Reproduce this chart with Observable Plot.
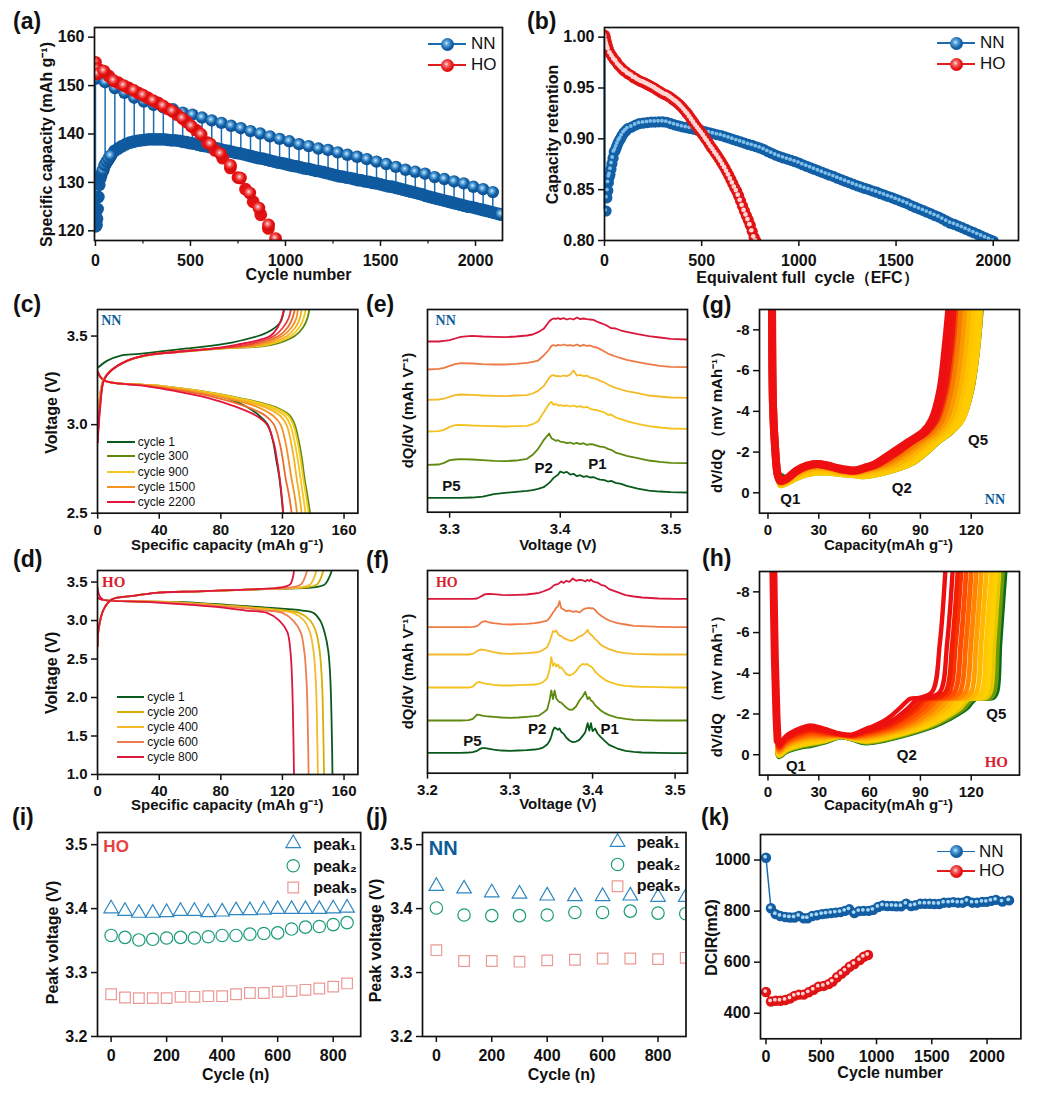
<!DOCTYPE html>
<html><head><meta charset="utf-8">
<style>
html,body{margin:0;background:#fff}
#page{position:relative;width:1040px;height:1099px;overflow:hidden;font-family:'Liberation Sans',Arial,sans-serif;color:#111}
.tag{position:absolute;font:bold 23px/1 'Liberation Sans',Arial,sans-serif}
.lg{position:absolute;font-size:12px;line-height:14px;white-space:nowrap}
.ln{position:absolute}
.sp{position:absolute;border-radius:50%}
</style>
<script src="https://cdn.jsdelivr.net/npm/d3@7"></script>
<script src="https://cdn.jsdelivr.net/npm/@observablehq/plot@0.6"></script>
</head><body>
<svg width="0" height="0" style="position:absolute"><defs>
<radialGradient id="sB" cx="0.42" cy="0.4" r="0.6"><stop offset="0" stop-color="#cfeafc"/><stop offset="0.28" stop-color="#5aa6dc"/><stop offset="0.62" stop-color="#135ea3"/><stop offset="1" stop-color="#0c4f92"/></radialGradient>
<radialGradient id="sR" cx="0.42" cy="0.4" r="0.6"><stop offset="0" stop-color="#ffe0e0"/><stop offset="0.28" stop-color="#f26a6a"/><stop offset="0.62" stop-color="#e41212"/><stop offset="1" stop-color="#d40b0b"/></radialGradient>
</defs></svg>
<div id="page"></div>
<script>
// (a) capacity vs cycle
const aUpperCycles=[0,51,102,153,204,255,306,357,408,459,510,561,612,663,714,765,816,867,918,969,1020,1071,1122,1173,1224,1275,1326,1377,1428,1479,1530,1581,1632,1683,1734,1785,1836,1887,1938,1989,2040,2091];
const aUpper=[151.4,150.7,149.5,148.5,147.5,146.7,146,145.5,145.1,144.4,144,143.4,142.8,142.3,141.7,141.2,140.6,140.1,139.5,139,138.5,137.9,137.5,137,136.7,136.2,135.7,135.3,134.8,134.3,133.8,133.2,132.6,132.2,131.8,131.1,130.7,130.2,129.8,129.1,128.6,128];
const aLowerCycles=[0,3,5,8,11,15,20,25,30,40,50,60,70,80,100,120,140,160,180,200,220,240,260,280,300,320,340,360,380,400,420,440,460,480,500,520,540,560,580,600,620,640,660,680,700,720,740,760,780,800,820,840,860,880,900,920,940,960,980,1000,1020,1040,1060,1080,1100,1120,1140,1160,1180,1200,1220,1240,1260,1280,1300,1320,1340,1360,1380,1400,1420,1440,1460,1480,1500,1520,1540,1560,1580,1600,1620,1640,1660,1680,1700,1720,1740,1760,1780,1800,1820,1840,1860,1880,1900,1920,1940,1960,1980,2000,2020,2040,2060,2080,2100,2120,2135];
const aLower=[121,121,121.3,122.5,124.5,127,129.5,130.8,131.5,132.5,133.6,134.3,134.9,135.5,136.5,137,137.5,137.9,138.2,138.4,138.6,138.7,138.8,138.9,138.9,138.9,138.9,138.9,138.8,138.7,138.7,138.6,138.4,138.3,138.1,138,137.8,137.6,137.5,137.3,137.2,137,136.8,136.6,136.5,136.3,136.1,136,135.8,135.6,135.4,135.2,135,134.9,134.7,134.5,134.3,134.1,134,133.8,133.6,133.4,133.3,133.1,132.9,132.8,132.6,132.4,132.3,132.1,131.9,131.7,131.5,131.3,131.2,131,130.9,130.7,130.5,130.4,130.2,130.1,129.9,129.8,129.6,129.4,129.2,129.1,128.9,128.7,128.5,128.3,128.1,127.9,127.7,127.5,127.2,127,126.8,126.6,126.4,126.2,126,125.8,125.6,125.4,125.2,125,124.9,124.7,124.5,124.3,124.1,123.9,123.7,123.5,123.4];
const aHoCycles=[0,3,9,44,96,149,202,251,303,356,405,458,505,556,605,658,711,763,812,860,911,948];
const aHo=[154.8,153.5,152.4,153,151,150,149,148,146.9,145.8,144.7,143.2,141.6,139.9,137.9,135.9,133.5,130.9,127.8,124.7,121.2,118.4];
const aHoDenseCycles=[0,25,70,120,175,225,275,330,380,430,480,530,590,630,670,710,750,790,830,870,910,950];
const aHoDense=[152.5,153.2,152,150.6,149.5,148.5,147.5,146.4,145.2,144,142.5,140.8,138.2,136.6,135,133,131,128.6,126,123.3,120.5,117.5];
// (b) retention vs EFC
const bNnEfc=[8,12,17,20,24,28,33,38,44,50,56,62,68,75,82,90,100,110,120,140,160,180,200,220,240,260,280,300,320,340,360,380,400,420,440,460,480,500,520,540,560,580,600,620,640,660,680,700,720,740,760,780,800,820,840,860,880,900,920,940,960,980,1000,1020,1040,1060,1080,1100,1120,1140,1160,1180,1200,1220,1240,1260,1280,1300,1320,1340,1360,1380,1400,1420,1440,1460,1480,1500,1520,1540,1560,1580,1600,1620,1640,1660,1680,1700,1720,1740,1760,1780,1800,1820,1840,1860,1880,1900,1920,1940,1960,1980,2000];
const bNn=[.829,.842,.849,.857,.8625,.865,.87,.8756,.881,.887,.889,.892,.895,.898,.9,.903,.906,.908,.91,.9115,.9135,.915,.9155,.916,.9165,.9165,.9167,.9167,.9163,.915,.9138,.9128,.9118,.911,.9102,.9095,.9085,.9078,.9068,.906,.905,.904,.9032,.902,.9008,.8995,.8982,.897,.8958,.8945,.8935,.8922,.891,.8895,.8875,.8858,.884,.8825,.8812,.88,.8788,.8775,.8762,.8745,.873,.8715,.87,.8685,.867,.8655,.8642,.8628,.8612,.8597,.8582,.8568,.8552,.8538,.8525,.8512,.85,.8487,.8475,.846,.8447,.8433,.842,.8405,.839,.8375,.836,.8342,.8325,.831,.8295,.8278,.8262,.8245,.823,.821,.819,.817,.8158,.8142,.8127,.811,.8093,.8077,.806,.8043,.8027,.801,.7993];
const bHoEfc=[0,4,8,12,16,20,30,40,50,60,70,80,90,100,110,120,130,140,150,160,170,180,190,200,210,220,230,240,250,260,270,280,290,300,310,320,330,340,350,360,370,380,390,400,410,420,430,440,450,460,470,480,490,500,510,520,530,540,550,560,570,580,590,600,610,620,630,640,650,660,670,680,690,700,710,720,730,740,750,760,770,780,790];
const bHo=[1.002,1,.996,.993,.99,.988,.984,.981,.978,.976,.973,.971,.969,.967,.966,.964,.963,.962,.96,.9595,.958,.957,.956,.9555,.9545,.9535,.9525,.9515,.9505,.9495,.948,.947,.9458,.9445,.9435,.943,.9417,.9405,.939,.9375,.9362,.9345,.9327,.9307,.9285,.9262,.924,.9212,.9185,.9158,.913,.9105,.908,.9055,.903,.9,.8975,.8945,.8915,.889,.886,.8835,.8805,.8775,.8742,.871,.8675,.864,.86,.856,.852,.8485,.844,.839,.834,.829,.8245,.82,.815,.809,.803,.799,.794];
// (c) NN voltage profiles
const cColors=["#0a5a1e","#5d8a0d","#f6c81e","#f7c51b","#f5b21f","#f39323","#ee6b2e","#e3143c"];
const cDisV=[3.3,3.25,3.22,3.19,3.15,3.1,3.05,3,2.9,2.8,2.7,2.6,2.5];
const cDisCap=[[0,4,35,60,84,97,105,110.5,114,116,118,119.3,120.4],[0,4,40,66.6,92,115,125,128,130.8,132.8,134.3,136.2,138],[0,4,39.4,65.8,91,113.7,123.9,127,129.9,131.9,133.5,135.3,137],[0,4,38,64,89,111,121.5,125,128,130,131.7,133.4,135],[0,4,37,62,86,108,118.5,122.6,125.6,127.6,129.2,131,132.5],[0,4,35,59,83,103.5,114,118.8,122,124,125.8,127.9,129.5],[0,4,32,55,78,97,109,114.5,118.1,120.3,122,124.3,126],[0,4,29,50,72,90,103,110,114.3,116.5,118.2,119.5,120.6]];
const cChgV=[2.9,3.1,3.25,3.3,3.36,3.39,3.41,3.43,3.45,3.5,3.55,3.6,3.65];
const cChgCap=[[0,.8,3.5,8,19,32,52,82,113,128,133.5,136.2,137.5],[0,.9,3.6,8,19,31.5,51,80,110,125.5,131,133.8,135],[0,1,3.7,8,19,31,50.5,79,107,123,128.5,131.3,132.5],[0,1.2,3.8,8,19,30.5,50,78,104,120,126,129,130],[0,1.3,3.9,8,19,30,49,77,100,117.5,123.5,126.5,128],[0,1.5,4,8,19,30,49,76,96,114.5,120.5,124,125.5],[0,1.7,4,8,19,30,52,76,90,112,117,119.5,121]];
const cChgColors=["#5d8a0d","#f6c81e","#f5b21f","#f39323","#ee6b2e","#e8403a","#e3143c"];
const cDarkCap=[0,6,15,27,58,88,110,118.5,121];
const cDarkV=[3.32,3.36,3.39,3.4,3.43,3.465,3.52,3.577,3.65];
const cLegend=["cycle 1","cycle 300","cycle 900","cycle 1500","cycle 2200"];
const cLegendColors=["#0a5a1e","#5d8a0d","#f6c81e","#f39323","#e3143c"];
// (d) HO voltage profiles
const dColors=["#0a5a1e","#d6b000","#f5b92a","#ee7e4e","#dc163c"];
const dDisV=[3.3,3.27,3.24,3.2,3.17,3.13,3.1,3,2.85,2.6,2.2,1.5,1];
const dDisCap=[[0,3,55,86,108,133,140,144.5,147.3,149.8,151.2,152.1,152.5],[0,3,50,80,100,122,131,138,141.8,144.2,145.7,146.6,147],[0,3,46,76,95,117,127,134,137.8,140.2,141.7,142.6,143],[0,3,41,71,89,109,120,127,131.8,134.2,135.7,136.6,137],[0,3,34,63,80,96,110,118,123.2,125.2,126.3,127.1,127.5]];
const dChgV=[2.67,2.89,3.145,3.275,3.32,3.36,3.38,3.41,3.43,3.47,3.58,3.65];
const dChgCap=[[0,.6,3.9,9.3,23,38,66,112,140,147.5,150.8,152],[0,.6,3.9,9.3,23,38,66,112,135,142.5,145.5,146.5],[0,.6,3.9,9.3,23,38,66,110,131,138,141,142],[0,.6,3.9,9.3,23,38,66,107,126,132,135,136],[0,.6,3.9,9.3,23,38,66,105,119,125,127,127.5]];
const dStartCap=[0,1,3];
const dStartV=[3.42,3.33,3.28];
const dLegend=["cycle 1","cycle 200","cycle 400","cycle 600","cycle 800"];
// (e) NN dQ/dV, arbitrary offset units
const eV=[3.28,3.29,3.295,3.3,3.305,3.31,3.32,3.33,3.34,3.35,3.36,3.37,3.375,3.38,3.385,3.39,3.392,3.394,3.396,3.398,3.4,3.403,3.406,3.409,3.412,3.415,3.418,3.421,3.424,3.427,3.43,3.433,3.436,3.44,3.443,3.446,3.45,3.455,3.46,3.47,3.48,3.49,3.5,3.515];
const eColors=["#0a5a1e","#5f8a0f","#f4c21f","#f4ba2a","#ee7a45","#d9183c"];
const eTraces=[
[43,43,43,43,43,43,44,47,54,58,61,64,66,70,75,88,95,103,108,112,122,118,121,113,115,108,111,106,108,104,105,101,98,96,92,94,88,85,79,71,65,62,60,59],
[142,143,148,156,158,159,158,156,154,153,155,160,172,190,216,236,222,218,214,216,212,210,207,209,205,208,204,207,202,204,203,200,197,195,190,187,179,174,169,162,155,151,148,147],
[242,243,247,256,261,262,260,259,258,257,258,259,264,273,300,325,331,322,325,320,321,319,320,317,320,316,318,314,316,310,308,306,303,299,292,293,284,279,273,265,258,254,251,250],
[337,338,341,346,351,353,352,350,349,348,350,351,356,364,378,403,410,411,408,409,407,410,408,413,425,410,412,408,410,404,402,399,394,389,383,378,373,368,363,357,350,347,344,343],
[428,430,433,439,444,447,446,444,443,443,445,448,451,455,470,488,499,501,499,502,500,503,500,501,499,503,498,502,499,500,496,494,489,482,476,472,467,462,457,450,444,439,436,435],
[512,512,514,516,521,526,529,527,526,525,527,530,533,540,550,572,578,581,580,582,579,582,578,581,578,584,579,581,579,578,577,572,568,563,558,552,551,545,541,534,528,524,520,518]];
// (f) HO dQ/dV
const fV=[3.2,3.22,3.24,3.25,3.255,3.26,3.263,3.266,3.27,3.275,3.28,3.29,3.3,3.31,3.32,3.33,3.335,3.34,3.345,3.348,3.35,3.352,3.354,3.356,3.358,3.36,3.362,3.365,3.368,3.372,3.376,3.38,3.384,3.388,3.391,3.394,3.396,3.398,3.4,3.403,3.406,3.41,3.415,3.42,3.43,3.44,3.45,3.46,3.48,3.5,3.515];
const fTraces=[
[61,61,61,62,63,67,72,75,75,73,71,68,67,68,69,71,73,77,86,97,110,128,137,134,130,134,124,118,107,98,93,95,100,112,122,150,128,150,126,134,119,108,96,85,74,67,64,62,61,60,60],
[158,158,158,159,163,176,175,173,171,170,169,167,166,167,169,171,173,181,191,220,248,222,248,224,218,213,212,204,197,190,191,200,218,230,244,222,228,218,215,204,197,188,180,174,167,163,160,159,158,158,158],
[257,257,257,257,260,272,274,271,269,267,265,263,263,264,265,266,268,273,285,312,348,322,330,320,326,316,318,308,298,293,297,306,320,328,326,327,322,320,316,305,298,289,280,274,266,262,260,259,258,257,257],
[356,356,356,356,358,366,370,371,369,366,363,359,358,359,360,362,364,370,378,395,410,426,424,428,418,413,412,405,402,398,397,403,410,414,420,430,420,416,411,402,396,385,378,372,364,360,358,357,356,356,356],
[438,438,438,438,439,441,447,454,456,452,450,447,446,447,448,450,452,455,458,466,474,482,488,497,500,516,495,491,486,488,484,486,482,490,494,495,496,494,495,490,481,473,465,458,450,446,442,441,439,438,438],
[523,523,523,523,523,524,528,532,537,538,537,535,534,535,536,539,541,545,550,553,556,561,565,566,567,571,575,571,577,574,584,577,580,579,575,580,576,581,576,573,572,565,562,552,543,534,530,527,524,523,523]];
// (g) NN dV/dQ band
const gColors=["#1f6d12","#9aa800","#ffcc00","#ffcc00","#ffc400","#fdb400","#fb9a00","#f77c00","#f24a00","#ee1510","#ee1010"];
const gLeftCap=[2.4,3,4.3,5.7];
const gLeftDv=[-9,-4.2,-2.1,-.9];
const gMidCap=[7.3,11,17,23,29,35,43,51,58];
const gRightDv=[-1.4,-2,-2.5,-3,-3.6,-5,-7,-9];
const gMidDv=[[-.9,-.75,-.8,-.93,-.97,-.97,-.92,-.85,-.8],[-.36,-.45,-.7,-.88,-.97,-.97,-.9,-.84,-.8],[-.36,-.45,-.7,-.88,-.97,-.97,-.9,-.84,-.8],[-.4,-.5,-.75,-.95,-1.05,-1.02,-.93,-.87,-.85],[-.42,-.52,-.8,-1,-1.1,-1.08,-.97,-.9,-.92],[-.45,-.55,-.85,-1.08,-1.18,-1.14,-1,-.94,-1],[-.48,-.58,-.92,-1.15,-1.25,-1.2,-1.05,-.98,-1.07],[-.5,-.62,-.98,-1.22,-1.32,-1.26,-1.1,-1.02,-1.15],[-.55,-.65,-1.04,-1.28,-1.38,-1.3,-1.13,-1.05,-1.2],[-.58,-.68,-1.08,-1.32,-1.42,-1.33,-1.16,-1.08,-1.24],[-.6,-.7,-1.1,-1.34,-1.42,-1.34,-1.18,-1.1,-1.26]];
const gRightCap=[[84.5,94.5,101,109,115,120.5,124,126.2],[84.3,94.2,100.8,108.8,115,120.2,123.8,125.8],[84,94,100.5,108.5,115,120,123.7,125.5],[82,92,99,107,113,118,121.5,123.5],[79,90,97,105,110.5,115.5,119,121],[76,87.5,95,102.5,108,113,116.5,118.5],[72,84,92,100,105.5,110.5,114,116],[69,81,89,97.5,103,108,111.5,113.5],[66,78,86,95,100.5,105.5,109,111],[64,75.5,84,93,98.5,103.5,107,109],[63,74,83,92,97,101.7,104.7,107]];
// (h) HO dV/dQ band
const hColors=["#0a6a1c","#6f9a08","#e6c800","#ffd000","#ffc800","#ffb800","#ff9f00","#ff8400","#ff6600","#ff4c00","#f83200","#f02000","#ee1010","#ee1010"];
const hLeftCap=[3.2,4,5,5.7];
const hLeftDv=[-9,-5,-2,-.7];
const hMidCap=[6.5,11,19,25,33,43,50,58];
const hRightDv=[-1.4,-1.8,-2.3,-2.75,-2.8,-3.1,-5.5,-9];
const hMidDv=[[.1,-.15,-.36,-.44,-.6,-.87,-.75,-.57],[.07,-.18,-.4,-.48,-.63,-.88,-.76,-.6],[.04,-.23,-.45,-.54,-.67,-.89,-.78,-.64],[0,-.27,-.51,-.6,-.71,-.9,-.79,-.68],[-.05,-.33,-.57,-.67,-.75,-.91,-.81,-.73],[-.1,-.4,-.65,-.75,-.81,-.92,-.83,-.79],[-.15,-.47,-.73,-.84,-.87,-.93,-.85,-.85],[-.21,-.53,-.81,-.92,-.93,-.95,-.87,-.91],[-.26,-.6,-.89,-1.01,-.99,-.96,-.89,-.97],[-.32,-.67,-.97,-1.09,-1.04,-.97,-.91,-1.03],[-.37,-.74,-1.05,-1.18,-1.1,-.99,-.93,-1.09],[-.41,-.78,-1.11,-1.23,-1.14,-1,-.95,-1.13],[-.46,-.85,-1.19,-1.32,-1.2,-1.01,-.97,-1.19],[-.54,-.95,-1.3,-1.44,-1.28,-1.03,-1,-1.28]];
const hRightCap=[[98,108,117.5,122.5,133,135.2,137,140],[96.6,106.5,115.9,121,131.3,133.7,135.6,138.5],[94.4,104.3,113.6,118.7,128.7,131.4,133.5,136.5],[92.4,102.2,111.3,116.5,126.3,129.2,131.5,134.5],[89.8,99.6,108.5,113.8,123.2,126.5,128.9,132],[86.8,96.5,105.2,110.5,119.6,123.3,125.9,129],[83.7,93.3,101.9,107.3,116,120.1,122.9,126],[80.7,90.2,98.5,104,112.3,116.8,119.9,123],[77.6,87,95.1,100.7,108.6,113.5,116.9,120],[74.5,83.9,91.8,97.4,105,110.3,113.9,117],[71.5,80.7,88.4,94.1,101.3,107,110.8,114],[69.5,78.7,86.2,92,98.9,104.9,108.8,112],[66.4,75.5,82.8,88.7,95.2,101.7,105.8,109],[62,71,78,84,90,97,101.5,104.7]];
// (i) HO peak voltages
const iCycles=[0,50,100,150,200,250,300,350,400,450,500,550,600,650,700,750,800,850];
const iPeak1=[3.4,3.396,3.393,3.393,3.394,3.396,3.396,3.394,3.395,3.397,3.397,3.398,3.399,3.399,3.399,3.399,3.4,3.401];
const iPeak2=[3.358,3.355,3.351,3.352,3.354,3.355,3.354,3.356,3.358,3.358,3.36,3.361,3.362,3.368,3.371,3.372,3.375,3.378];
const iPeak5=[3.266,3.261,3.26,3.26,3.26,3.262,3.262,3.263,3.263,3.266,3.268,3.268,3.27,3.271,3.273,3.275,3.278,3.283];
// (j) NN peak voltages
const jCycles=[0,100,200,300,400,500,600,700,800,900];
const jPeak1=[3.435,3.431,3.425,3.423,3.42,3.419,3.419,3.42,3.418,3.418];
const jPeak2=[3.401,3.39,3.389,3.389,3.39,3.394,3.394,3.396,3.393,3.392];
const jPeak5=[3.335,3.318,3.318,3.317,3.319,3.32,3.322,3.322,3.321,3.323];
const peakNames=["peak₁","peak₂","peak₅"];
// (k) DCIR
const kNnCycles=[0,45,88,130,175,215,257,299,341,377,419,462,507,546,588,630,673,715,754,800,842,884,930,970,1015,1057,1100,1142,1181,1223,1268,1313,1352,1397,1440,1482,1524,1567,1610,1655,1695,1737,1779,1821,1867,1912,1957,1996,2038,2080,2138,2199];
const kNn=[1009,811,788,781,777,775,775,781,772,772,781,784,788,790,792,794,796,801,807,792,800,801,801,805,816,822,820,820,819,819,829,820,823,829,829,829,828,828,833,833,835,833,833,840,833,833,836,836,840,844,837,842];
const kHoCycles=[0,45,88,130,175,220,259,299,341,386,431,476,522,567,603,643,682,718,757,799,848,884,923];
const kHo=[483,446,449,449,452,458,468,473,473,482,492,504,507,514,524,541,554,567,582,593,608,621,628];

const page=document.getElementById("page");
const BLUE="#1a6cb0",RED="#e21c1c",TXTB="#0a5d9a",TXTR="#d81e2e";
const zip=(xs,ys)=>xs.map((x,i)=>({x,y:ys[i]}));
const L=(xs,ys,stroke,strokeWidth=1.8,curve="catmull-rom")=>Plot.line(zip(xs,ys),{x:"x",y:"y",stroke,strokeWidth,curve,clip:"frame"});
function spheres(xs,ys,r,grad,hl,hlr=.3){
  const d=zip(xs,ys);
  const m=[Plot.dot(d,{x:"x",y:"y",r,fill:grad,clip:"frame"})];
  if(hl) m.push(Plot.dot(d,{x:"x",y:"y",r:r*hlr,fill:hl,dx:-r*.16,dy:-r*.2,clip:"frame"}));
  return m;
}
const notes=(rows,fill,font,size)=>Plot.text(rows,{x:"x",y:"y",text:"t",fill,fontFamily:font,fontSize:size,fontWeight:"bold"});
function panel({frame:[l,t,r,b],x,y,xTicks,yTicks,xFmt,yFmt,xMinor,xLabel,yLabel,xLabelSize=16,yLabelSize=16,tickSize=16,xPad=6,marks}){
  const ml=70,mr=6,mt=4,mb=64,cx=(l+r)/2,cy=(t+b)/2;
  const lab=(txt,px,py,rot,size)=>Plot.text([txt],{text:d=>d,frameAnchor:"middle",dx:px-cx,dy:py-cy,rotate:rot,fontSize:size,fontWeight:"bold",fill:"#111"});
  const all=[...marks,
    Plot.frame({stroke:"#111",strokeWidth:1.7}),
    Plot.axisX(xTicks,{tickSize:6,tickPadding:xPad,tickFormat:xFmt||(d=>String(d)),label:null,strokeWidth:1.5,fontSize:tickSize,fontWeight:"bold",fill:"#111",stroke:"#111"})];
  if(xMinor) all.push(Plot.axisX(xMinor,{tickSize:3.5,tickFormat:()=>"",label:null,strokeWidth:1.2,stroke:"#111"}));
  if(yTicks) all.push(Plot.axisY(yTicks,{tickSize:6,tickPadding:4,tickFormat:yFmt||(d=>String(d)),label:null,strokeWidth:1.5,fontSize:tickSize,fontWeight:"bold",fill:"#111",stroke:"#111"}));
  all.push(lab(xLabel[0],xLabel[1],xLabel[2],0,xLabelSize),lab(yLabel[0],yLabel[1],yLabel[2],-90,yLabelSize));
  const svg=Plot.plot({width:r-l+ml+mr,height:b-t+mt+mb,marginLeft:ml,marginRight:mr,marginTop:mt,marginBottom:mb,
    x:{domain:x,axis:null},y:{domain:y,axis:null},
    style:{fontFamily:"'Liberation Sans',Arial,sans-serif",fontSize:"16px",overflow:"visible",background:"transparent",color:"#111"},marks:all});
  svg.style.position="absolute";svg.style.left=(l-ml)+"px";svg.style.top=(t-mt)+"px";svg.style.maxWidth="none";
  page.appendChild(svg);
}
function html(cls,css,txt){const e=document.createElement("div");e.className=cls;e.style.cssText=css;if(txt)e.textContent=txt;page.appendChild(e);return e;}
function sphereLegend(names,colors,bgs,x0,x1,ys,tx){
  names.forEach((n,i)=>{
    html("ln",`left:${x0}px;top:${ys[i]-1}px;width:${x1-x0}px;height:1.6px;background:${colors[i]}`);
    html("sp",`left:${(x0+x1)/2-6.5}px;top:${ys[i]-6.5}px;width:13px;height:13px;background:${bgs[i]}`);
    html("lg",`left:${tx}px;top:${ys[i]-10}px;font-size:17px;line-height:20px`,n);
  });
}
const BG_B="radial-gradient(circle at 42% 40%,#cfeafc 0,#5aa6dc 20%,#135ea3 55%,#0c4f92 100%)";
const BG_R="radial-gradient(circle at 42% 40%,#ffe0e0 0,#f26a6a 20%,#e41212 55%,#d40b0b 100%)";
function lineLegend(names,colors,x0,x1,ys,tx){
  names.forEach((n,i)=>{
    html("ln",`left:${x0}px;top:${ys[i]-1}px;width:${x1-x0}px;height:2px;background:${colors[i]}`);
    html("lg",`left:${tx}px;top:${ys[i]-7}px`,n);
  });
}
const tags=[["(a)",13,10],["(b)",527,10],["(c)",13,293],["(d)",13,548],["(e)",366,293],["(f)",366,549],["(g)",702,294],["(h)",702,547],["(i)",12,806],["(j)",366,806],["(k)",701,806]];
tags.forEach(([t,x,y])=>html("tag",`left:${x}px;top:${y}px`,t));

// (a)
const stemBase=c=>aLower[Math.min(aLowerCycles.length-1,d3.bisectLeft(aLowerCycles,c))];
panel({frame:[94,27,502,240],x:[-5,2142],y:[118,162],xTicks:[0,500,1000,1500,2000],yTicks:[120,130,140,150,160],xPad:8,
  xMinor:[250,750,1250,1750],xLabel:["Cycle number",298,274],yLabel:["Specific capacity (mAh g⁻¹)",46,144],
  marks:[
    Plot.ruleX(aUpperCycles.map((c,i)=>({c,u:aUpper[i],l:stemBase(c)})),{x:"c",y1:"u",y2:"l",stroke:BLUE,strokeWidth:1.5,clip:"frame"}),
    ...spheres(aLowerCycles,aLower,6.4,"#0f5a9f",null),
    ...spheres(aLowerCycles.slice(9,14),aLower.slice(9,14),6.4,"url(#sB)",null),
    ...spheres(aLowerCycles.slice(-1),aLower.slice(-1),6.4,"url(#sB)",null),
    ...spheres(aUpperCycles,aUpper,6.2,"url(#sB)",null),
    ...spheres(aHoDenseCycles,aHoDense,6.4,"#e41212",null),
    ...spheres(aHoCycles,aHo,6.4,"url(#sR)",null)
  ]});
sphereLegend(["NN","HO"],[BLUE,RED],[BG_B,BG_R],428,466,[44,65],471);
// (b)
panel({frame:[604,27,1018,240],x:[0,2130],y:[.8,1.0095],xTicks:[0,500,1000,1500,2000],yTicks:[.8,.85,.9,.95,1],yFmt:d3.format(".2f"),xPad:8,
  xLabel:["Equivalent full  cycle（EFC）",807,277],yLabel:["Capacity retention",552,134],
  marks:[
    Plot.ruleX([0],{y1:.83,y2:1,stroke:BLUE,strokeWidth:2}),
    ...spheres(bNnEfc,bNn,5.6,"#125fa6","#7dbfea",.34),
    ...spheres(bHoEfc,bHo,5.6,"#e01414","#ffd5d5",.42)
  ]});
sphereLegend(["NN","HO"],[BLUE,RED],[BG_B,BG_R],937,975,[43,64],980);
// (c)
panel({frame:[97.3,309,357.7,512.7],x:[-.1,169],y:[2.5,3.65],xTicks:[0,40,80,120,160],yTicks:[2.5,3,3.5],yFmt:d3.format(".1f"),tickSize:15,xPad:5,
  xLabel:["Specific capacity (mAh g⁻¹)",227,545],yLabel:["Voltage (V)",52,412],xLabelSize:15,
  marks:[
    L(cDarkCap,cDarkV,cColors[0]),
    ...cDisCap.map((c,i)=>L(c,cDisV,cColors[i])),
    ...cChgCap.map((c,i)=>L(c,cChgV,cChgColors[i])),
    notes([{x:8.9,y:3.586,t:"NN"}],TXTB,"'Liberation Serif',serif",14)
  ]});
lineLegend(cLegend,cLegendColors,106.7,135,[441.7,456.3,471.7,486.7,501.7],137.7);
// (d)
panel({frame:[97.3,569.7,357.7,773.7],x:[-.1,169],y:[1,3.65],xTicks:[0,40,80,120,160],yTicks:[1,1.5,2,2.5,3,3.5],yFmt:d3.format(".1f"),tickSize:15,xPad:5,
  xLabel:["Specific capacity (mAh g⁻¹)",227,804],yLabel:["Voltage (V)",52,672],xLabelSize:15,
  marks:[
    ...dColors.map((c,i)=>L(dDisCap[i],dDisV,c)),
    ...dColors.map((c,i)=>L(dChgCap[i],dChgV,c)),
    L(dStartCap,dStartV,dColors[4]),
    notes([{x:10.4,y:3.5,t:"HO"}],TXTR,"'Liberation Serif',serif",15)
  ]});
lineLegend(dLegend,dColors,116.7,144.3,[697.3,712.3,727.3,742.3,757.3],147.3);
// (e)
panel({frame:[426.7,309,686.7,511.7],x:[3.28,3.515],y:[0,608],xTicks:[3.3,3.4,3.5],xFmt:d3.format(".1f"),tickSize:15,xPad:5,
  xLabel:["Voltage (V)",557,545],yLabel:["dQ/dV (mAh V⁻¹)",407,410],xLabelSize:15,yLabelSize:15,
  marks:[
    ...eTraces.map((v,i)=>L(eV,v,eColors[i],1.8,"linear")),
    notes([{x:3.2964,y:575,t:"NN"}],TXTB,"'Liberation Serif',serif",14),
    notes([{x:3.3015,y:78,t:"P5"},{x:3.385,y:133,t:"P2"},{x:3.4336,y:145,t:"P1"}],"#111",undefined,15)
  ]});
// (f)
panel({frame:[426.7,570,686.7,772.7],x:[3.2,3.515],y:[0,608],xTicks:[3.2,3.3,3.4,3.5],xFmt:d3.format(".1f"),tickSize:15,xPad:5,
  xLabel:["Voltage (V)",557,804],yLabel:["dQ/dV (mAh V⁻¹)",407,671],xLabelSize:15,yLabelSize:15,
  marks:[
    ...fTraces.map((v,i)=>L(fV,v,eColors[i],1.8,"linear")),
    notes([{x:3.2234,y:573,t:"HO"}],TXTR,"'Liberation Serif',serif",14),
    notes([{x:3.2544,y:96,t:"P5"},{x:3.333,y:131,t:"P2"},{x:3.4206,y:131,t:"P1"}],"#111",undefined,15)
  ]});
// (g)
panel({frame:[759,309,1019,512.7],x:[-5,148.5],y:[1,-9],xTicks:[0,30,60,90,120],yTicks:[0,-2,-4,-6,-8],tickSize:15,xPad:5,
  xLabel:["Capacity(mAh g⁻¹)",888,545],yLabel:["dV/dQ （mV mAh⁻¹）",717,418],xLabelSize:15,yLabelSize:15,
  marks:[
    ...gColors.map((c,i)=>L([...gLeftCap,...gMidCap,...gRightCap[i]],[...gLeftDv,...gMidDv[i],...gRightDv],c,i>=9?8:i==0?4:5)),
    notes([{x:134,y:.34,t:"NN"}],TXTB,"'Liberation Serif',serif",14),
    notes([{x:13.2,y:.3,t:"Q1"},{x:79,y:-.25,t:"Q2"},{x:124,y:-2.6,t:"Q5"}],"#111",undefined,15)
  ]});
// (h)
panel({frame:[759,570.7,1019,774.3],x:[-5,148.5],y:[1,-9],xTicks:[0,30,60,90,120],yTicks:[0,-2,-4,-6,-8],tickSize:15,xPad:5,
  xLabel:["Capacity(mAh g⁻¹)",888,804],yLabel:["dV/dQ （mV mAh⁻¹）",717,682],xLabelSize:15,yLabelSize:15,
  marks:[
    ...hColors.map((c,i)=>L([...hLeftCap,...hMidCap,...hRightCap[i]],[...hLeftDv,...hMidDv[i],...hRightDv],c,i>=11?4.4:4.8)),
    L(hLeftCap,hLeftDv,"#ee1010",8),
    notes([{x:134.8,y:.36,t:"HO"}],TXTR,"'Liberation Serif',serif",15),
    notes([{x:16.5,y:.57,t:"Q1"},{x:82,y:0,t:"Q2"},{x:134.8,y:-2,t:"Q5"}],"#111",undefined,15)
  ]});
// (i),(j)
const TRI="#2f86c0",CIR="#1a9c78",SQ="#eb9a96";
function peakMarks(cy,p1,p2,p5,lx,ly,tx,ty){
  const s=(ys,symbol,stroke,r)=>Plot.dot(zip(cy,ys),{x:"x",y:"y",symbol,stroke,r,fill:"none",strokeWidth:1.2,clip:"frame"});
  const k=(y,symbol,stroke,r)=>Plot.dot([{x:lx,y}],{x:"x",y:"y",symbol,stroke,r,fill:"none",strokeWidth:1.2});
  return [s(p1,"triangle",TRI,5.4),s(p2,"circle",CIR,6.2),s(p5,"square",SQ,6),
    k(ly[0],"triangle",TRI,5.4),k(ly[1],"circle",CIR,6.2),k(ly[2],"square",SQ,6),
    Plot.text(peakNames.map((t,i)=>({x:tx,y:ty[i],t})),{x:"x",y:"y",text:"t",textAnchor:"start",fontSize:16,fontWeight:"bold",fill:"#111"})];
}
panel({frame:[97.3,832,360.5,1036],x:[-49,899],y:[3.2,3.519],xTicks:[0,200,400,600,800],yTicks:[3.2,3.3,3.4,3.5],yFmt:d3.format(".1f"),xPad:7,
  xLabel:["Cycle (n)",235.5,1074],yLabel:["Peak voltage (V)",53,942],
  marks:[...peakMarks(iCycles,iPeak1,iPeak2,iPeak5,656,[3.502,3.467,3.433],728,[3.5,3.466,3.432]),
    notes([{x:18,y:3.497,t:"HO"}],"#e84040",undefined,17)]});
panel({frame:[422,832,685.5,1036],x:[-50,901],y:[3.2,3.519],xTicks:[0,200,400,600,800],yTicks:[3.2,3.3,3.4,3.5],yFmt:d3.format(".1f"),xPad:7,
  xLabel:["Cycle (n)",561,1074],yLabel:["Peak voltage (V)",375,940],
  marks:[...peakMarks(jCycles,jPeak1,jPeak2,jPeak5,654,[3.504,3.469,3.435],723,[3.503,3.469,3.435]),
    notes([{x:25,y:3.494,t:"NN"}],TXTB,undefined,20)]});
// (k)
panel({frame:[760.3,834,1020.7,1038.3],x:[-49.5,2306],y:[300,1100],xTicks:[0,500,1000,1500,2000],yTicks:[400,600,800,1000],xPad:6,
  xLabel:["Cycle number",890,1072],yLabel:["DCIR(mΩ)",712,937],
  marks:[
    L(kNnCycles,kNn,BLUE,1.5,"linear"),
    L(kHoCycles,kHo,RED,1.5,"linear"),
    ...spheres(kNnCycles,kNn,5.2,"#135ea3","#a8d8f5",.36),
    ...spheres(kHoCycles,kHo,5.2,"#e01414","#ffd5d5",.36)
  ]});
sphereLegend(["NN","HO"],[BLUE,RED],[BG_B,BG_R],937,975,[851.7,871],979);
</script>
</body></html>
